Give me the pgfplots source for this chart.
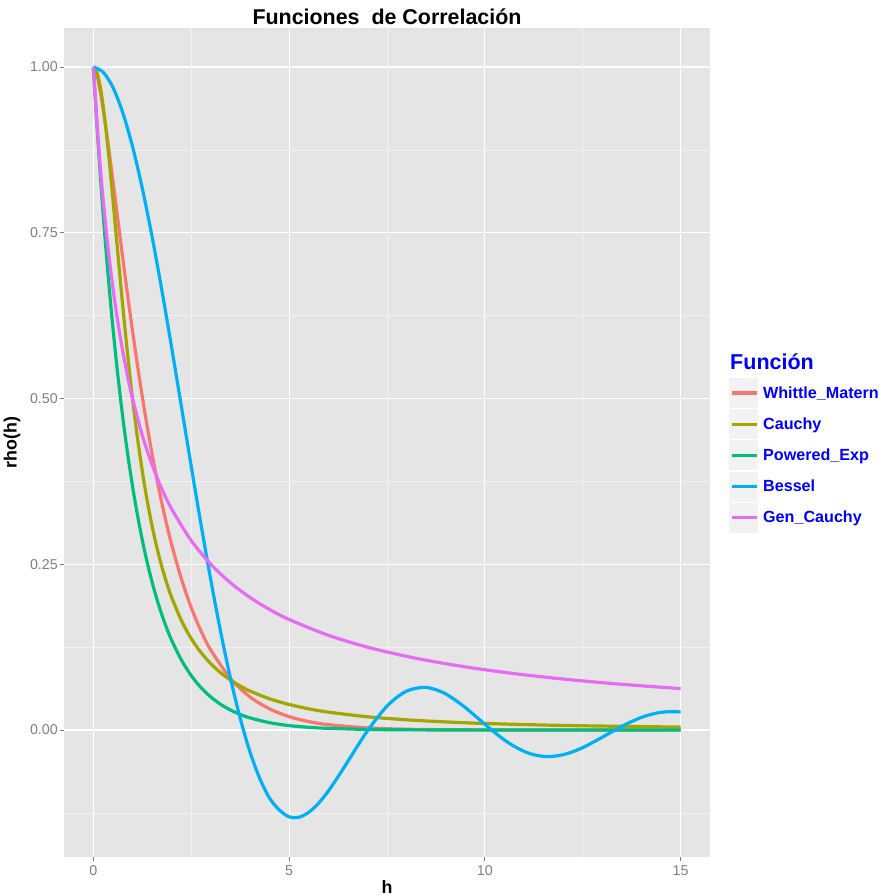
\documentclass[border=0pt]{standalone}
\usepackage{fontspec}
\setmainfont{Liberation Sans}
\usepackage{pgfplots}
\pgfplotsset{compat=1.18}
\definecolor{panelbg}{HTML}{E5E5E5}
\definecolor{minorgrid}{HTML}{F2F2F2}
\definecolor{keybg}{HTML}{F2F2F2}
\definecolor{tickgray}{HTML}{7F7F7F}
\definecolor{cWM}{HTML}{F8766D}
\definecolor{cCa}{HTML}{A3A500}
\definecolor{cPE}{HTML}{00BF7D}
\definecolor{cBe}{HTML}{00B0F6}
\definecolor{cGC}{HTML}{E76BF3}
\begin{document}
\begin{tikzpicture}
\path[use as bounding box] (-64bp,-39bp) rectangle (817bp,857bp);
\begin{axis}[
  name=ax,
  scale only axis, width=646bp, height=829bp,
  xmin=-0.75, xmax=15.75, ymin=-0.1915, ymax=1.0588,
  axis background/.style={fill=panelbg},
  axis line style={draw=none},
  xtick={0,5,10,15}, ytick={0,0.25,0.5,0.75,1},
  yticklabels={0.00,0.25,0.50,0.75,1.00},
  minor xtick={2.5,7.5,12.5},
  minor ytick={-0.125,0.125,0.375,0.625,0.875},
  grid=both,
  major grid style={white, line width=1.1bp},
  minor grid style={minorgrid, line width=0.55bp},
  tick align=outside, tick pos=left,
  major tick length=4bp, minor tick length=0pt,
  tick style={tickgray, line width=0.8bp},
  /pgf/number format/assume math mode=true,
  ticklabel style={font=\fontsize{14.3}{16}\selectfont, text=tickgray, inner sep=0pt},
  xticklabel style={anchor=north, yshift=-4bp},
  yticklabel style={anchor=east, xshift=-2bp},
  title={Funciones~ de Correlación},
  title style={font=\bfseries\fontsize{21.5}{24}\selectfont, at={(0.5,1)}, anchor=base, yshift=-2bp, inner sep=0pt},
  xlabel={h},
  xlabel style={font=\bfseries\fontsize{17.9}{20}\selectfont, at={(0.5,0)}, anchor=base, yshift=-36bp, inner sep=0pt},
  ylabel={rho(h)},
  ylabel style={font=\bfseries\fontsize{17.9}{20}\selectfont, at={(0,0.5)}, anchor=center, yshift=52bp, inner sep=0pt},
  legend style={at={(1.02941,0.57781)}, anchor=north west, draw=none, fill=none,
    inner sep=0pt, outer sep=0pt, row sep=1.2bp, column sep=5bp,
    font=\bfseries\fontsize{16.2}{18}\selectfont, text=blue,
    nodes={inner sep=0pt, outer sep=0pt}},
  legend cell align=left,
  legend image code/.code={
    \fill[fill=keybg, draw=none] (0bp,-15bp) rectangle (29bp,15bp);
    \draw[#1, line width=3.3bp] (2.5bp,0bp) -- (27.5bp,0bp);
  },
  every axis plot/.append style={line width=3.2bp, line join=round},
]
\addplot[cWM, smooth] coordinates {
(0,1) (0.1,0.9854) (0.2,0.9552) (0.3,0.9168) (0.4,0.8738) (0.5,0.8282) (0.6,0.7817) (0.7,0.7352) (0.8,0.6894) (0.9,0.6449) (1.0,0.6019) (1.1,0.5608) (1.2,0.5215) (1.3,0.4843) (1.4,0.4491) (1.5,0.4161) (1.6,0.3850) (1.7,0.3560) (1.8,0.3287) (1.9,0.3034) (2.0,0.2797) (2.2,0.2374) (2.4,0.2009) (2.6,0.1697) (2.8,0.1431) (3.0,0.1205) (3.5,0.0778) (4.0,0.0499) (4.5,0.0319) (5.0,0.0202) (5.5,0.0128) (6.0,0.0081) (7.0,0.0032) (8.0,0.0012) (9.0,0.0005) (10.0,0.0002) (12.0,0.00003) (15.0,0.0)
};
\addlegendentry{Whittle\_Matern}
\addplot[cCa, smooth] coordinates {
(0,1) (0.1,0.9901) (0.2,0.9615) (0.3,0.9174) (0.4,0.8621) (0.5,0.8) (0.6,0.7353) (0.7,0.6711) (0.8,0.6098) (0.9,0.5525) (1.0,0.5) (1.1,0.4525) (1.2,0.4098) (1.3,0.3717) (1.4,0.3378) (1.5,0.3077) (1.6,0.2809) (1.7,0.2571) (1.8,0.2358) (1.9,0.2169) (2.0,0.2) (2.25,0.1649) (2.5,0.1379) (2.75,0.1168) (3.0,0.1) (3.25,0.0865) (3.5,0.0755) (3.75,0.0664) (4.0,0.0588) (4.5,0.0471) (5.0,0.0385) (5.5,0.0320) (6.0,0.0270) (7.0,0.02) (8.0,0.0154) (9.0,0.0122) (10.0,0.0099) (12.0,0.0069) (15.0,0.0044)
};
\addlegendentry{Cauchy}
\addplot[cPE, smooth] coordinates {
(0,1) (0.1,0.9048) (0.2,0.8187) (0.3,0.7408) (0.4,0.6703) (0.5,0.6065) (0.6,0.5488) (0.7,0.4966) (0.8,0.4493) (0.9,0.4066) (1.0,0.3679) (1.1,0.3329) (1.2,0.3012) (1.3,0.2725) (1.4,0.2466) (1.5,0.2231) (1.6,0.2019) (1.7,0.1827) (1.8,0.1653) (1.9,0.1496) (2.0,0.1353) (2.25,0.1054) (2.5,0.0821) (2.75,0.0639) (3.0,0.0498) (3.25,0.0388) (3.5,0.0302) (3.75,0.0235) (4.0,0.0183) (4.5,0.0111) (5.0,0.0067) (5.5,0.0041) (6.0,0.0025) (7.0,0.0009) (8.0,0.0003) (10.0,0.00005) (15.0,0.0)
};
\addlegendentry{Powered\_Exp}
\addplot[cBe, smooth] coordinates {
(0,1) (0.25,0.9922) (0.5,0.9692) (0.75,0.9312) (1.0,0.8801) (1.25,0.8170) (1.5,0.7439) (1.75,0.6631) (2.0,0.5767) (2.25,0.4873) (2.5,0.3977) (2.75,0.3098) (3.0,0.2261) (3.25,0.1484) (3.5,0.0785) (3.75,0.0178) (4.0,-0.0330) (4.25,-0.0731) (4.5,-0.1027) (4.75,-0.1206) (5.0,-0.1310) (5.25,-0.1315) (5.5,-0.1241) (5.75,-0.1105) (6.0,-0.0922) (6.25,-0.0704) (6.5,-0.0473) (6.75,-0.0237) (7.0,-0.0013) (7.25,0.0185) (7.5,0.0361) (7.75,0.0492) (8.0,0.0587) (8.25,0.0630) (8.5,0.0643) (8.75,0.0608) (9.0,0.0545) (9.25,0.0449) (9.5,0.0340) (9.75,0.0214) (10.0,0.0087) (10.25,-0.0036) (10.5,-0.0150) (10.75,-0.0246) (11.0,-0.0321) (11.25,-0.0373) (11.5,-0.0397) (11.75,-0.0396) (12.0,-0.0372) (12.25,-0.0327) (12.5,-0.0265) (12.75,-0.0189) (13.0,-0.0108) (13.25,-0.0025) (13.5,0.0056) (13.75,0.0128) (14.0,0.0191) (14.25,0.0236) (14.5,0.0267) (14.75,0.0276) (15.0,0.0273)
};
\addlegendentry{Bessel}
\addplot[cGC, smooth] coordinates {
(0,1) (0.1,0.9091) (0.2,0.8333) (0.3,0.7692) (0.4,0.7143) (0.5,0.6667) (0.6,0.625) (0.7,0.5882) (0.8,0.5556) (0.9,0.5263) (1.0,0.5) (1.25,0.4444) (1.5,0.4) (1.75,0.3636) (2.0,0.3333) (2.5,0.2857) (3.0,0.25) (3.5,0.2222) (4.0,0.2) (4.5,0.1818) (5.0,0.1667) (6.0,0.1429) (7.0,0.125) (8.0,0.1111) (9.0,0.1) (10.0,0.0909) (11.0,0.0833) (12.0,0.0769) (13.0,0.0714) (14.0,0.0667) (15.0,0.0625)
};
\addlegendentry{Gen\_Cauchy}
\end{axis}
\node[anchor=base west, inner sep=0pt, text=blue, font=\bfseries\fontsize{21.6}{24}\selectfont] at ([xshift=666bp, yshift=487.7bp]ax.south west) {Función};
\end{tikzpicture}
\end{document}
